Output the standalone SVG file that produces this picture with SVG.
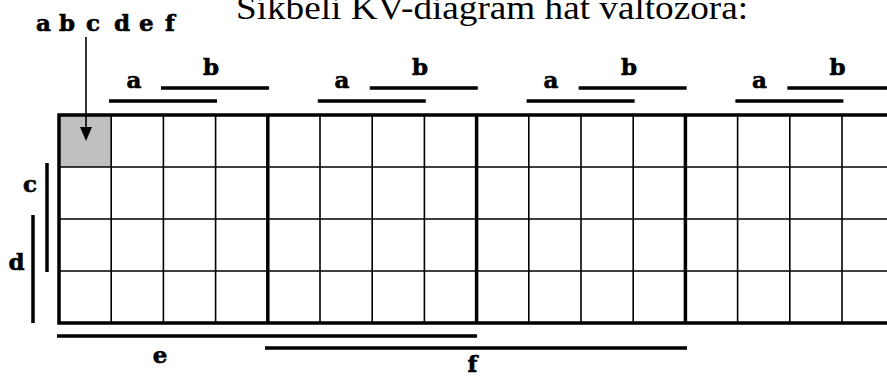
<svg xmlns="http://www.w3.org/2000/svg" width="887" height="377" viewBox="0 0 887 377">
<style>
.lbl{font-family:"DejaVu Serif","Liberation Serif",serif;font-weight:bold;font-size:23px;fill:#000;stroke:#000;stroke-width:0.6;text-anchor:middle}
.ttl{font-family:"Liberation Serif","Times New Roman",serif;font-size:33px;fill:#000}
.thin{stroke:#000;stroke-width:1.6;fill:none}
.thick{stroke:#000;stroke-width:3.5;fill:none}
.bar{stroke:#000;stroke-width:3.5;fill:none}
</style>
<rect width="887" height="377" fill="#fff"/>
<text class="ttl" x="236" y="19" textLength="512" lengthAdjust="spacingAndGlyphs">Síkbeli KV-diagram hat változóra:</text>
<g id="cell-highlight"><rect x="59" y="115" width="52.2" height="52" fill="#c0c0c0"/></g>
<g id="grid">
<path class="thin" d="M111.2 115V323M163.4 115V323M215.6 115V323M319.999 115V323M372.2 115V323M424.4 115V323M528.8 115V323M581 115V323M633.2 115V323M737.6 115V323M789.8 115V323M842 115V323M59 167H887M59 219H887M59 271H887"/>
<path class="thick" d="M887 115H59V323H887M267.8 115V323M476.6 115V323M685.4 115V323"/>
</g>
<g id="index-label">
<text class="lbl" style="text-anchor:start" x="36 50 59 75 86 100 114 128 139 153 165" y="31">a b c d e f</text>
<line x1="86" y1="37" x2="86" y2="130" stroke="#000" stroke-width="1.6"/>
<polygon points="80,127 92,127 86,141" fill="#000"/>
</g>
<g id="column-labels">
<text class="lbl" x="134" y="88">a</text><text class="lbl" x="211" y="75">b</text>
<text class="lbl" x="342" y="88">a</text><text class="lbl" x="420" y="75">b</text>
<text class="lbl" x="551" y="88">a</text><text class="lbl" x="629" y="75">b</text>
<text class="lbl" x="759.5" y="88">a</text><text class="lbl" x="837.5" y="75">b</text>
<path class="bar" d="M109 101H217M161 88H269M317.8 101H425.8M369.8 88H477.8M526.6 101H634.6M578.6 88H686.6M735.4 101H843.4M787.4 88H895"/>
</g>
<g id="row-labels">
<text class="lbl" x="30" y="192">c</text>
<text class="lbl" x="16.5" y="270">d</text>
<path class="bar" d="M47 163V272M33 215V323"/>
</g>
<g id="bottom-labels">
<path class="bar" d="M57 336H477M265 348H687"/>
<text class="lbl" x="160" y="363">e</text>
<text class="lbl" x="472.5" y="372">f</text>
</g>
</svg>
